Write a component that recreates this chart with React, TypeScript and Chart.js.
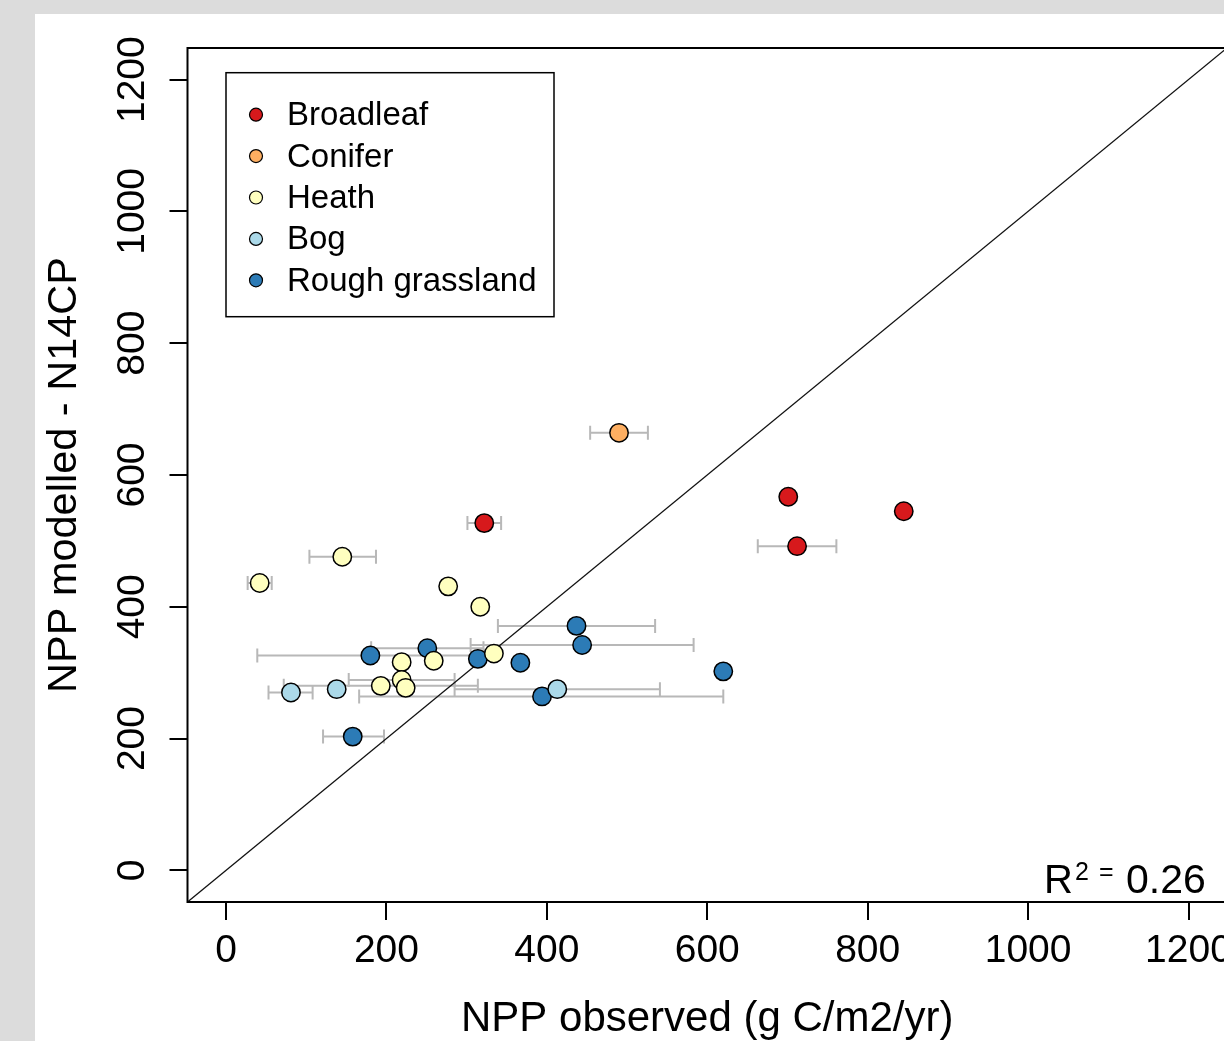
import React, { useEffect, useRef } from "react";
import { Chart, registerables } from "chart.js";

Chart.register(...registerables);

// ---- data ----
const categories = ["Broadleaf", "Conifer", "Heath", "Bog", "Rough grassland"];
const colors = ["#D7191C", "#FDAE61", "#FFFFBF", "#ABD9E9", "#2C7BB6"];

const broadleafX = [322, 701, 845, 712];
const broadleafY = [527, 567, 545, 492];
const broadleafLo = [301, null, null, 663];
const broadleafHi = [343, null, null, 761];

const coniferX = [490];
const coniferY = [664];
const coniferLo = [454];
const coniferHi = [526];

const heathX = [42, 145, 277, 317, 334, 259, 219, 219, 224, 193];
const heathY = [436, 476, 431, 400, 329, 318, 316, 289, 277, 280];
const heathLo = [27, 104, null, null, null, null, null, 153, null, 72];
const heathHi = [57, 187, null, null, null, null, null, 285, null, 314];

const bogX = [81, 138, 413];
const bogY = [270, 275, 275];
const bogLo = [53, null, 285];
const bogHi = [108, null, 541];

const roughX = [158, 180, 251, 314, 367, 437, 444, 394, 620];
const roughY = [203, 326, 337, 321, 315, 371, 342, 264, 302];
const roughLo = [121, 39, 181, null, null, 339, 305, 166, null];
const roughHi = [197, 321, 321, null, null, 535, 583, 620, null];

const axisTicks = [0, 200, 400, 600, 800, 1000, 1200];
const axisRange = [-48, 1248];
const oneToOne = [-48, 1248];
const r2Value = "0.26";

const xTitle = "NPP observed (g C/m2/yr)";
const yTitle = "NPP modelled - N14CP";

const FONT = "'Liberation Sans', Arial, sans-serif";

function mk(xs: number[], ys: number[], lo: (number | null)[], hi: (number | null)[]) {
  return {
    pts: xs.map((x, i) => ({ x, y: ys[i] })),
    lo,
    hi,
  };
}

const seriesData = [
  mk(broadleafX, broadleafY, broadleafLo, broadleafHi),
  mk(coniferX, coniferY, coniferLo, coniferHi),
  mk(heathX, heathY, heathLo, heathHi),
  mk(bogX, bogY, bogLo, bogHi),
  mk(roughX, roughY, roughLo, roughHi),
];

const errorBarPlugin = {
  id: "errorBars",
  beforeDatasetsDraw(chart: any) {
    const { ctx, scales } = chart;
    const xs = scales.x;
    const ys = scales.y;
    ctx.save();
    ctx.strokeStyle = "#b8b8b8";
    ctx.lineWidth = 2;
    chart.data.datasets.forEach((ds: any) => {
      if (!ds.xLo) return;
      ds.data.forEach((p: any, i: number) => {
        const lo = ds.xLo[i];
        const hi = ds.xHi[i];
        if (lo == null || hi == null) return;
        const py = ys.getPixelForValue(p.y);
        const x1 = xs.getPixelForValue(lo);
        const x2 = xs.getPixelForValue(hi);
        ctx.beginPath();
        ctx.moveTo(x1, py);
        ctx.lineTo(x2, py);
        ctx.moveTo(x1, py - 7);
        ctx.lineTo(x1, py + 7);
        ctx.moveTo(x2, py - 7);
        ctx.lineTo(x2, py + 7);
        ctx.stroke();
      });
    });
    ctx.restore();
  },
};

const decorPlugin = {
  id: "decor",
  afterDraw(chart: any) {
    const { ctx, chartArea } = chart;
    const { left, top, right, bottom } = chartArea;
    ctx.save();
    // box
    ctx.strokeStyle = "#000";
    ctx.lineWidth = 2;
    ctx.strokeRect(left, top, right - left, bottom - top);

    // legend
    const lx = left + 38.5;
    const ly = top + 24.7;
    ctx.lineWidth = 1.5;
    ctx.fillStyle = "#fff";
    ctx.fillRect(lx, ly, 328, 244);
    ctx.strokeRect(lx, ly, 328, 244);
    ctx.font = `33px ${FONT}`;
    ctx.textBaseline = "middle";
    ctx.textAlign = "left";
    categories.forEach((c, i) => {
      const cy = ly + 42 + i * 41.4;
      ctx.beginPath();
      ctx.arc(lx + 30, cy, 6.5, 0, Math.PI * 2);
      ctx.fillStyle = colors[i];
      ctx.fill();
      ctx.lineWidth = 1.2;
      ctx.strokeStyle = "#000";
      ctx.stroke();
      ctx.fillStyle = "#000";
      ctx.fillText(c, lx + 61, cy + 1.5);
    });

    // R^2 label
    ctx.fillStyle = "#000";
    ctx.textBaseline = "alphabetic";
    const base = bottom - 9;
    ctx.font = `40px ${FONT}`;
    ctx.fillText("R", right - 183, base);
    ctx.font = `25px ${FONT}`;
    ctx.fillText("2", right - 152, base - 13);
    ctx.fillText("=", right - 128, base - 13);
    ctx.font = `41px ${FONT}`;
    ctx.fillText(r2Value, right - 101, base);
    ctx.restore();
  },
};

export default function App() {
  const ref = useRef<HTMLCanvasElement | null>(null);

  useEffect(() => {
    if (!ref.current) return;
    const datasets: any[] = seriesData.map((s, i) => ({
      label: categories[i],
      data: s.pts,
      xLo: s.lo,
      xHi: s.hi,
      backgroundColor: colors[i],
      pointBackgroundColor: colors[i],
      pointBorderColor: "#000",
      pointBorderWidth: 1.5,
      pointRadius: 9.2,
      pointHoverRadius: 9.2,
      showLine: false,
      order: 1,
    }));
    datasets.push({
      label: "1:1",
      data: [
        { x: oneToOne[0], y: oneToOne[0] },
        { x: oneToOne[1], y: oneToOne[1] },
      ],
      showLine: true,
      borderColor: "#111",
      borderWidth: 1.3,
      pointRadius: 0,
      fill: false,
      order: 10,
    });

    const tickFont = { family: FONT, size: 39 };
    const titleFontX = { family: FONT, size: 42 };
    const titleFontY = { family: FONT, size: 41.5 };
    const setTicks = (scale: any) => {
      scale.ticks = axisTicks.map((v) => ({ value: v }));
    };
    const fmt = (v: any) => String(v);

    const chart = new Chart(ref.current, {
      type: "scatter",
      data: { datasets },
      plugins: [errorBarPlugin, decorPlugin],
      options: {
        animation: false,
        responsive: false,
        devicePixelRatio: 1,
        events: [],
        layout: { padding: { top: 48, right: 33, left: 0, bottom: 0 } },
        plugins: {
          legend: { display: false },
          tooltip: { enabled: false },
        },
        scales: {
          x: {
            type: "linear",
            min: axisRange[0],
            max: axisRange[1],
            afterBuildTicks: setTicks,
            afterFit: (scale: any) => {
              scale.height = 179;
            },
            border: { display: false },
            grid: {
              drawOnChartArea: false,
              drawTicks: true,
              tickLength: 18,
              color: "#000",
              lineWidth: 2,
            },
            ticks: {
              font: tickFont,
              color: "#000",
              padding: 8,
              maxRotation: 0,
              autoSkip: false,
              callback: fmt,
            },
            title: {
              display: true,
              text: xTitle,
              font: titleFontX,
              color: "#000",
              padding: { top: 0, bottom: 36 },
            },
          },
          y: {
            type: "linear",
            min: axisRange[0],
            max: axisRange[1],
            afterBuildTicks: setTicks,
            afterFit: (scale: any) => {
              scale.width = 187.5;
            },
            border: { display: false },
            grid: {
              drawOnChartArea: false,
              drawTicks: true,
              tickLength: 18,
              color: "#000",
              lineWidth: 2,
            },
            ticks: {
              font: tickFont,
              color: "#000",
              padding: -7,
              minRotation: 90,
              maxRotation: 90,
              crossAlign: "center",
              autoSkip: false,
              callback: fmt,
            },
            title: {
              display: true,
              text: yTitle,
              font: titleFontY,
              color: "#000",
              padding: { top: 40, bottom: 0 },
            },
          },
        },
      } as any,
    });
    return () => chart.destroy();
  }, []);

  return (
    <div
      style={{
        position: "fixed",
        left: 0,
        top: 0,
        width: 1224,
        height: 1041,
        overflow: "hidden",
        background: "#dcdcdc",
      }}
    >
      <div
        style={{
          position: "absolute",
          left: 35,
          top: 14,
          width: 1260,
          height: 1100,
          background: "#ffffff",
        }}
      />
      <canvas
        ref={ref}
        width={1260}
        height={1081}
        style={{ position: "absolute", left: 0, top: 0, width: 1260, height: 1081 }}
      />
    </div>
  );
}
